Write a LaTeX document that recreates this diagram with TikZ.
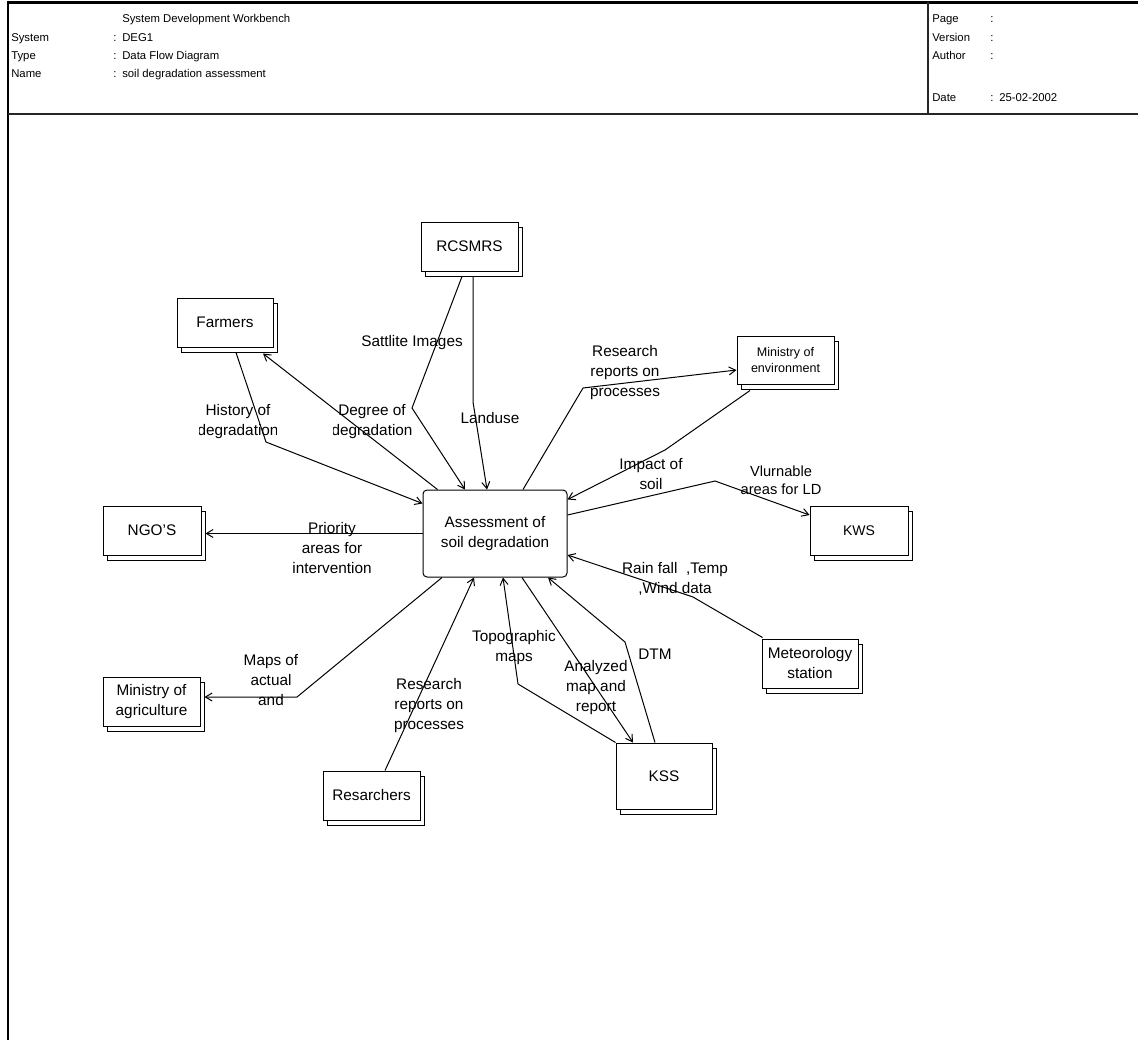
\documentclass[tikz,border=0pt]{standalone}
\usepackage{fontspec}
\setmainfont{Liberation Sans}
\usetikzlibrary{arrows.meta,shadows,calc}
\begin{document}
\begin{tikzpicture}[x=0.75pt,y=-0.75pt,
  ext/.style={draw=black, fill=white, line width=0.75pt, minimum width=72.75pt, minimum height=36.75pt,
    inner sep=1pt, align=center, font=\fontsize{11.5}{15}\selectfont,
    copy shadow={shadow xshift=3pt, shadow yshift=-3.75pt}},
  proc/.style={draw=black, fill=white, line width=0.75pt, rounded corners=3pt, minimum width=108pt,
    minimum height=65.25pt, inner sep=1pt, align=center, font=\fontsize{11.5}{15}\selectfont},
  lbl/.style={align=center, inner sep=0pt, font=\fontsize{11.5}{15}\selectfont},
  flow/.style={line width=0.75pt, draw=black},
  arr/.style={flow, -{Straight Barb[length=5pt,width=6pt,line width=0.75pt]}},
  hdr/.style={anchor=base west, inner sep=0pt, font=\fontsize{8.5}{10}\selectfont}
]
\useasboundingbox (0,0) rectangle (1138,1040);
% frame
\draw[line width=2.25pt] (8,2) -- (1138,2);
\draw[line width=1.6pt] (8,0.5) -- (8,1040);
\draw[line width=1.1pt, draw=black!85] (8,114) -- (1138,114);
\draw[line width=1.1pt, draw=black!85] (928,2) -- (928,114);
% header texts
\node[hdr] (h0) at (122,22) {System Development Workbench};
\node[hdr] (h1) at (11,41) {System};
\node[hdr] (h1c) at (113,41) {:};
\node[hdr] (h1v) at (122,41) {DEG1};
\node[hdr] (h2) at (11,59) {Type};
\node[hdr] (h2c) at (113,59) {:};
\node[hdr] (h2v) at (122,59) {Data Flow Diagram};
\node[hdr] (h3) at (11,77) {Name};
\node[hdr] (h3c) at (113,77) {:};
\node[hdr] (h3v) at (122,77) {soil degradation assessment};
\node[hdr] (r1) at (932,22) {Page};
\node[hdr] (r1c) at (990,22) {:};
\node[hdr] (r2) at (932,41) {Version};
\node[hdr] (r2c) at (990,41) {:};
\node[hdr] (r3) at (932,59) {Author};
\node[hdr] (r3c) at (990,59) {:};
\node[hdr] (r4) at (932,101) {Date};
\node[hdr] (r4c) at (990,101) {:};
\node[hdr] (r4v) at (999,101) {25-02-2002};
% nodes
\node[proc] (asm) at (495,533.5) {Assessment of\\soil degradation};
\node[ext] (rcs) at (469.5,246.5) {RCSMRS};
\node[ext, minimum width=72pt] (farm) at (225,322.5) {Farmers};
\node[ext, minimum width=72.75pt, minimum height=36pt, font=\fontsize{9.4}{12.5}\selectfont] (menv) at (785.5,360) {Ministry of\\environment};
\node[ext, minimum width=73.5pt, font=\fontsize{10.5}{13}\selectfont] (kws) at (859,530.5) {KWS};
\node[ext, minimum width=72pt] (met) at (810,663.5) {Meteorology\\station};
\node[ext, minimum width=72pt, minimum height=49.5pt] (kss) at (664,776) {KSS};
\node[ext, minimum width=73.5pt] (ngo) at (152,530.5) {NGO'S};
\node[ext] (magr) at (151.5,701.5) {Ministry of\\agriculture};
\node[ext] (res) at (371.5,795.5) {Resarchers};
% connectors
\draw[arr] ($(farm.south)+(11,5)$) -- (266,442) -- ($(asm.north west)+(0,14)$);
\draw[arr] ($(asm.north west)+(15,0)$) -- ($(farm.south)+(38,6)$);
\draw[arr] ($(rcs.south)+(-7.5,5)$) -- (412,408) -- ($(asm.north)+(-30,0)$);
\draw[arr] ($(rcs.south)+(3.5,5)$) -- (473,402) -- ($(asm.north)+(-8,0)$);
\draw[arr] ($(asm.north)+(28,0)$) -- (583,388) -- ($(menv.west)+(0,10)$);
\draw[arr] ($(menv.south)+(-35.5,6)$) -- (665,450) -- ($(asm.north east)+(0,10)$);
\draw[arr] ($(asm.east)+(0,-18.5)$) -- (715,481) -- ($(kws.west)+(0,-15.5)$);
\draw[arr] (asm.west) -- ($(asm.west -| ngo.east)+(4,0)$);
\draw[arr] ($(met.north west)+(1,-1)$) -- (693,597) -- ($(asm.east)+(0,21.5)$);
\draw[arr] ($(kss.north)+(-9,0)$) -- (625,642) -- ($(asm.south)+(53,0)$);
\draw[arr] ($(asm.south)+(27,0)$) -- ($(kss.north)+(-31,0)$);
\draw[arr] (kss.north west) -- (518,684) -- ($(asm.south)+(8,0)$);
\draw[arr] ($(res.north)+(13.5,0)$) -- ($(asm.south)+(-21,0)$);
\draw[arr] ($(asm.south)+(-53,0)$) -- (297,697) -- ($(magr.east)+(4,-4.5)$);
% labels
\node[lbl] (lsat) at (412,343) {Sattlite Images};
\begin{scope}
\clip (199,395) rectangle (276,450);
\node[lbl] (lhist) at (238,422) {History of\\degradation};
\end{scope}
\begin{scope}
\clip (333,395) rectangle (412,450);
\node[lbl] (ldeg) at (372,422) {Degree of\\degradation};
\end{scope}
\node[lbl] (lland) at (490,418) {Landuse};
\node[lbl] (lres1) at (625,373) {Research\\reports on\\processes};
\node[lbl] (limp) at (651,474) {Impact of\\soil};
\node[lbl, font=\fontsize{11}{13.5}\selectfont] (lvul) at (781,480) {Vlurnable\\areas for LD};
\node[lbl] (lpri) at (332,548) {Priority\\areas for\\intervention};
\node[lbl] (lrain) at (675,579) {Rain fall\ \ ,Temp\\,Wind data};
\node[lbl] (ldtm) at (655,654) {DTM};
\node[lbl] (ltopo) at (514,648) {Topographic\\maps};
\node[lbl] (lana) at (596,688) {Analyzed\\map and\\report};
\node[lbl] (lres2) at (429,706) {Research\\reports on\\processes};
\node[lbl] (lmaps) at (271,680) {Maps of\\actual\\and};
\end{tikzpicture}
\end{document}
